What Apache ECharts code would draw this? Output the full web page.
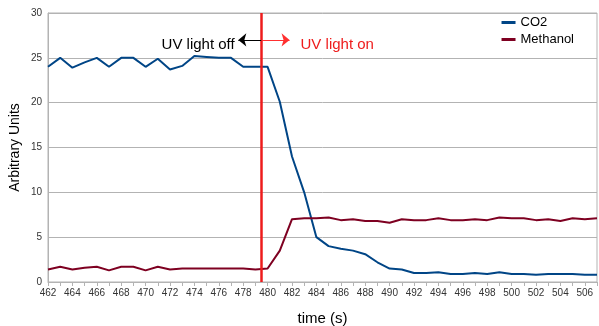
<!DOCTYPE html>
<html><head><meta charset="utf-8">
<script src="https://cdn.jsdelivr.net/npm/echarts@6/dist/echarts.min.js"></script>
<style>html,body{margin:0;padding:0;background:#fff}#c{width:599px;height:326px}</style>
</head><body><div id="c"></div>
<script>
const times = [462,463,464,465,466,467,468,469,470,471,472,473,474,475,476,477,478,479,480,481,482,483,484,485,486,487,488,489,490,491,492,493,494,495,496,497,498,499,500,501,502,503,504,505,506,507];
const co2 = [24,25,23.9,24.5,25,24,25,25,24,24.9,23.7,24.1,25.2,25.1,25,25,24,24,24,20.1,14,10,5,4,3.7,3.5,3.1,2.2,1.5,1.4,1.0,1.0,1.1,0.9,0.9,1.0,0.9,1.1,0.9,0.9,0.8,0.9,0.9,0.9,0.8,0.8];
const methanol = [1.4,1.7,1.4,1.6,1.7,1.3,1.7,1.7,1.3,1.7,1.4,1.5,1.5,1.5,1.5,1.5,1.5,1.4,1.5,3.5,7.0,7.1,7.1,7.2,6.9,7.0,6.8,6.8,6.6,7.0,6.9,6.9,7.1,6.9,6.9,7.0,6.9,7.2,7.1,7.1,6.9,7.0,6.8,7.1,7.0,7.1];
const uvSwitchTime = 479.5;
const arrowLevel = 27.0;
const arrowLeftEnd = 477.6;
const arrowRightEnd = 481.8;
const labelOff = {text:'UV light off', x:477.3, y:26.5};
const labelOn = {text:'UV light on', x:482.7, y:26.5};

const font = 'Liberation Sans, Arial, sans-serif';
const chart = echarts.init(document.getElementById('c'));
chart.setOption({
  animation:false,
  textStyle:{fontFamily:font},
  grid:{left:48,right:2,top:13,bottom:44,show:true,borderColor:'#b3b3b3',borderWidth:1,containLabel:false,outerBoundsMode:'none'},
  legend:{
    right:20, top:11, orient:'vertical', itemWidth:14, itemHeight:3, itemGap:4,
    icon:'rect',
    textStyle:{fontSize:13,color:'#000',fontFamily:font},
    data:['CO2','Methanol']
  },
  xAxis:{
    type:'value', min:462, max:507, interval:2,
    name:'time (s)', nameLocation:'middle', nameGap:29,
    nameTextStyle:{fontSize:15,color:'#000',fontFamily:font},
    axisLine:{lineStyle:{color:'#b3b3b3'}},
    axisTick:{show:true,length:4,lineStyle:{color:'#b3b3b3'}},
    minorTick:{show:true,splitNumber:2,length:4,lineStyle:{color:'#b3b3b3'}},
    axisLabel:{fontSize:10,color:'#333',margin:6,showMaxLabel:false},
    splitLine:{show:false}
  },
  yAxis:{
    type:'value', min:0, max:30, interval:5,
    name:'Arbitrary Units', nameLocation:'middle', nameGap:26, nameMoveOverlap:false,
    nameTextStyle:{fontSize:14,color:'#000',fontFamily:font},
    axisLine:{show:true,lineStyle:{color:'#b3b3b3'}},
    axisTick:{show:false},
    axisLabel:{fontSize:10,color:'#333',margin:6},
    splitLine:{lineStyle:{color:'#b3b3b3'}}
  },
  series:[
    {name:'CO2', type:'line', data:times.map((t,i)=>[t,co2[i]]), showSymbol:false, symbol:'none',
     lineStyle:{color:'#004586',width:2}, itemStyle:{color:'#004586'}, z:3},
    {name:'Methanol', type:'line', data:times.map((t,i)=>[t,methanol[i]]), showSymbol:false, symbol:'none',
     lineStyle:{color:'#7e0021',width:2}, itemStyle:{color:'#7e0021'}, z:3,
     markLine:{
       silent:true, animation:false, symbolSize:[10,8],
       label:{show:false},
       data:[
         [{coord:[uvSwitchTime,0],symbol:'none',lineStyle:{color:'#ee1c1c',width:2.5,type:'solid'}},{coord:[uvSwitchTime,30],symbol:'none'}],
         [{coord:[uvSwitchTime,arrowLevel],symbol:'none',lineStyle:{color:'#000',width:1,type:'solid'}},{coord:[arrowLeftEnd,arrowLevel],symbol:'arrow'}],
         [{coord:[uvSwitchTime,arrowLevel],symbol:'none',lineStyle:{color:'#ff3030',width:1,type:'solid'}},{coord:[arrowRightEnd,arrowLevel],symbol:'arrow'}]
       ]
     },
     markPoint:{
       silent:true, symbol:'circle', symbolSize:0,
       data:[
         {coord:[labelOff.x,labelOff.y], label:{show:true,formatter:labelOff.text,position:'left',distance:0,fontSize:15,color:'#000',fontFamily:font}},
         {coord:[labelOn.x,labelOn.y], label:{show:true,formatter:labelOn.text,position:'right',distance:0,fontSize:15,color:'#ee1c1c',fontFamily:font}}
       ]
     }
    }
  ]
});
</script></body></html>
